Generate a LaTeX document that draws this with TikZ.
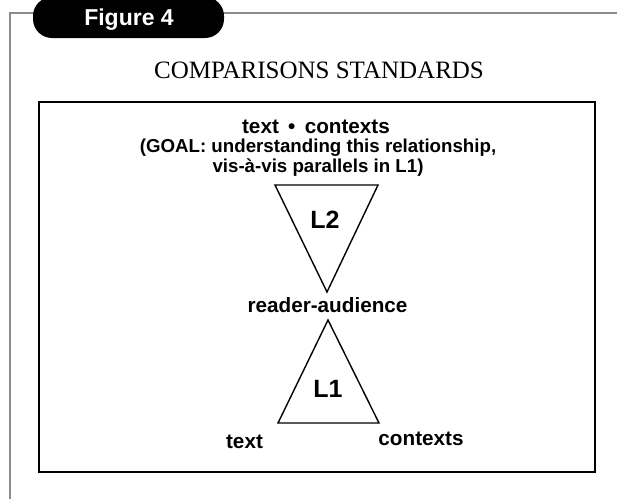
\documentclass[tikz,border=0pt]{standalone}
\usepackage{fontspec}
\setmainfont{Liberation Serif}
\newfontfamily\labfont{Liberation Sans}
\begin{document}
\begin{tikzpicture}[x=1pt,y=-1pt,
  lbl/.style={font=\labfont\bfseries\fontsize{20.7}{24}\selectfont, inner sep=0pt, anchor=base},
  goal/.style={font=\labfont\bfseries\fontsize{18.7}{22}\selectfont, inner sep=0pt, anchor=base},
  big/.style={font=\labfont\bfseries\fontsize{25}{28}\selectfont, inner sep=0pt, anchor=base},
  tri/.style={draw=black, line width=1.4pt, line join=miter},
  frame/.style={draw=black!45, line width=1.3pt}]
\useasboundingbox (0,0) rectangle (617,499);
\fill[white] (0,0) rectangle (617,499);
% outer gray frame
\coordinate (fr) at (617,13);
\coordinate (fc) at (10,13);
\coordinate (fb) at (10,499);
\draw[frame] (fr) -- (fc) -- (fb);
% tab
\begin{scope}
\clip (0,0) rectangle (617,499);
\fill[black, rounded corners=19pt] (33,-3) rectangle (224,38);
\end{scope}
\node[font=\labfont\bfseries\fontsize{23}{26}\selectfont, text=white, inner sep=0pt, anchor=base] (fig) at (129,25) {Figure 4};
% title
\node[font=\fontsize{25}{28}\selectfont, inner sep=0pt, anchor=base] (title) at (319,78) {COMPARISONS STANDARDS};
% inner box
\draw[line width=2pt] (39,102) rectangle (595,472);
% top text
\node[lbl] (tc) at (316,133) {text\hspace{0.45em}•\hspace{0.45em}contexts};
\node[goal] (goal1) at (318,152.5) {(GOAL: understanding this relationship,};
\node[goal] (goal2) at (318,172.5) {vis-à-vis parallels in L1)};
% L2 triangle
\coordinate (a1) at (275,185);
\coordinate (a2) at (378,185);
\coordinate (a3) at (327,292);
\draw[tri] (a1) -- (a2) -- (a3) -- cycle;
\node[big] (l2) at (325,228) {L2};
\node[lbl] (ra) at (327.5,312) {reader-audience};
% L1 triangle
\coordinate (b1) at (328,320);
\coordinate (b2) at (278,423);
\coordinate (b3) at (379,423);
\draw[tri] (b1) -- (b2) -- (b3) -- cycle;
\node[big] (l1) at (328,397) {L1};
\node[lbl] (tx) at (244.5,448) {text};
\node[lbl] (cx) at (421,445) {contexts};
\end{tikzpicture}
\end{document}
